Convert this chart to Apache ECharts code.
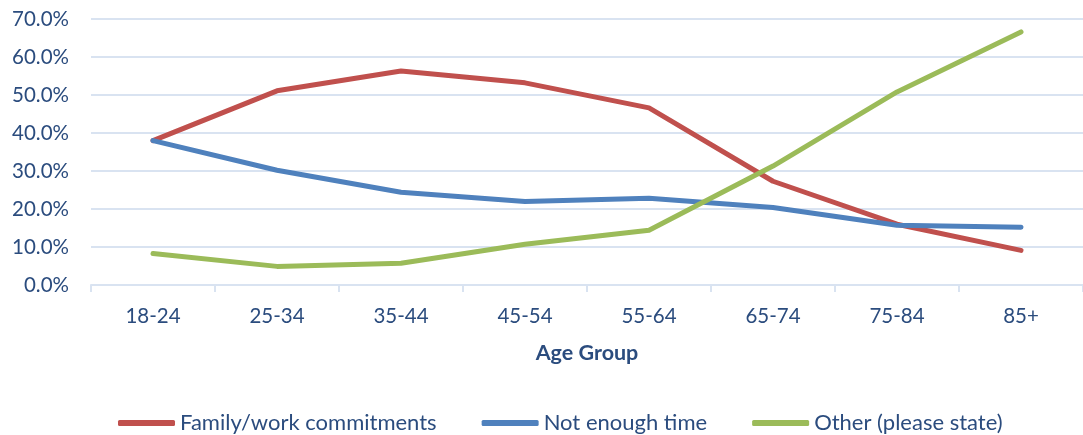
<!DOCTYPE html>
<html>
<head>
<meta charset="utf-8">
<script src="https://cdn.jsdelivr.net/npm/echarts@6/dist/echarts.min.js"></script>
<style>
  html, body { margin: 0; padding: 0; background: #ffffff; }
  #chart { width: 1083px; height: 435px; }
</style>
</head>
<body>
<div id="chart"></div>
<script>
// Reasons by age group, share of respondents (%)
const ageGroups = ['18-24', '25-34', '35-44', '45-54', '55-64', '65-74', '75-84', '85+'];
const familyWork = [38.0, 51.1, 56.3, 53.2, 46.6, 27.3, 16.0, 9.1];
const notEnoughTime = [38.0, 30.2, 24.4, 22.0, 22.8, 20.4, 15.7, 15.2];
const otherReason = [8.3, 4.9, 5.7, 10.7, 14.4, 31.3, 50.8, 66.6];
const seriesNames = ['Family/work commitments', 'Not enough time', 'Other (please state)'];

const textColor = '#2B4C7E';
const gridColor = '#D9E3F1';
const fontFamily = 'Lato, "Noto Sans", sans-serif';

const chart = echarts.init(document.getElementById('chart'), null, { renderer: 'canvas' });

function lineSeries(name, data, color) {
  return {
    name: name,
    type: 'line',
    data: data,
    symbol: 'none',
    smooth: false,
    lineStyle: { width: 5, color: color, cap: 'round', join: 'round' },
    itemStyle: { color: color },
    emphasis: { disabled: true }
  };
}

chart.setOption({
  animation: false,
  grid: { left: 91, right: -7, top: 19, bottom: 150, containLabel: false },
  legend: {
    top: 407,
    left: 113,
    itemWidth: 57,
    itemHeight: 6,
    itemGap: 45,
    icon: 'roundRect',
    textStyle: { color: textColor, fontSize: 22, fontFamily: fontFamily },
    data: seriesNames
  },
  xAxis: {
    type: 'category',
    data: ageGroups,
    boundaryGap: true,
    name: 'Age Group',
    nameLocation: 'middle',
    nameGap: 57,
    nameTextStyle: { color: textColor, fontSize: 21.5, fontWeight: 'bold', fontFamily: fontFamily },
    axisLine: { lineStyle: { color: gridColor, width: 2 } },
    axisTick: { show: true, length: 7, lineStyle: { color: gridColor, width: 2 } },
    axisLabel: { color: textColor, fontSize: 20.5, margin: 21, fontFamily: fontFamily },
    splitLine: { show: false }
  },
  yAxis: {
    type: 'value',
    min: 0,
    max: 70,
    interval: 10,
    axisLine: { show: false },
    axisTick: { show: false },
    axisLabel: {
      color: textColor,
      fontSize: 20.5,
      margin: 22,
      fontFamily: fontFamily,
      formatter: v => v.toFixed(1) + '%'
    },
    splitLine: { lineStyle: { color: gridColor, width: 2 } }
  },
  series: [
    lineSeries(seriesNames[0], familyWork, '#C0504D'),
    lineSeries(seriesNames[1], notEnoughTime, '#4F81BD'),
    lineSeries(seriesNames[2], otherReason, '#9BBB59')
  ]
});
</script>
</body>
</html>
